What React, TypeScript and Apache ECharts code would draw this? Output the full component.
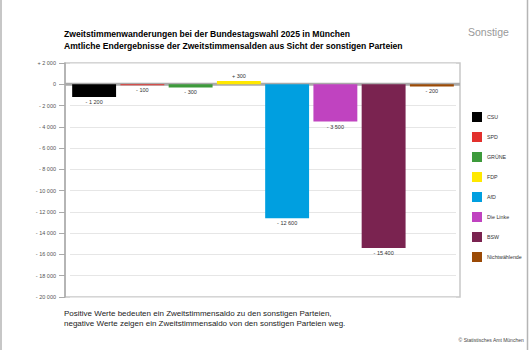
import React, { useEffect, useRef } from "react";
import * as echarts from "echarts";

const parties = ["CSU", "SPD", "GRÜNE", "FDP", "AfD", "Die Linke", "BSW", "Nichtwählende"];
const saldo = [-1200, -100, -300, 300, -12600, -3500, -15400, -200];
const colors = ["#000000", "#e2312d", "#3d9a3b", "#ffe800", "#009fe0", "#c043c0", "#7a2350", "#9b4a06"];
const yTicks = { min: -20000, max: 2000, interval: 2000 };
const titleLines = [
  "Zweitstimmenwanderungen bei der Bundestagswahl 2025 in München",
  "Amtliche Endergebnisse der Zweitstimmensalden aus Sicht der sonstigen Parteien",
];
const noteLines = [
  "Positive Werte bedeuten ein Zweitstimmensaldo zu den sonstigen Parteien,",
  "negative Werte zeigen ein Zweitstimmensaldo von den sonstigen Parteien weg.",
];
const cornerLabel = "Sonstige";
const sourceLabel = "© Statistisches Amt München";

const FONT = "'Liberation Sans', Arial, sans-serif";

function groupDigits(n: number): string {
  return String(Math.round(n)).replace(/\B(?=(\d{3})+(?!\d))/g, " ");
}
function signed(v: number): string {
  if (v > 0) return "+ " + groupDigits(v);
  if (v < 0) return "- " + groupDigits(-v);
  return "0";
}

export default function App() {
  const ref = useRef<HTMLDivElement>(null);
  useEffect(() => {
    if (!ref.current) return;
    const chart = echarts.init(ref.current, null, { renderer: "svg" });
    const series = parties.map((p, i) => ({
      name: p,
      type: "bar",
      stack: "all",
      barCategoryGap: "9%",
      itemStyle: { color: colors[i] },
      label: {
        show: true,
        position: saldo[i] >= 0 ? "top" : "bottom",
        distance: 2,
        fontSize: 5.5,
        fontFamily: FONT,
        color: "#333",
        formatter: (prm: any) => signed(prm.value),
      },
      data: parties.map((_, j) => (j === i ? saldo[i] : "-")),
    }));
    const baseGraphic: any[] = [
      { type: "line", shape: { x1: 1, y1: 0, x2: 1, y2: 350 }, style: { stroke: "#b5b5b5", lineWidth: 1.5 }, silent: true },
      { type: "line", shape: { x1: 527.5, y1: 0, x2: 527.5, y2: 350 }, style: { stroke: "#b5b5b5", lineWidth: 1.5 }, silent: true },
      { type: "rect", shape: { x: 65, y: 63, width: 395, height: 234 }, style: { fill: "none", stroke: "#c8c8c8", lineWidth: 1.5 }, z: 0, silent: true },
      { type: "text", left: 468, top: 26, style: { text: cornerLabel, fontSize: 10.5, fontFamily: FONT, fill: "#999" } },
      { type: "text", left: 64, top: 308, style: { text: noteLines.join("\n"), fontSize: 8, lineHeight: 10.5, fontFamily: FONT, fill: "#222" } },
      { type: "text", right: 6, top: 337, style: { text: sourceLabel, fontSize: 5, fontFamily: FONT, fill: "#444" } },
    ];
    chart.setOption({
      animation: false,
      textStyle: { fontFamily: FONT },
      title: {
        text: titleLines.join("\n"),
        left: 64,
        top: 28,
        padding: 0,
        textStyle: { fontSize: 8.6, fontWeight: "bold", lineHeight: 12, color: "#000", fontFamily: FONT },
      },
      legend: {
        orient: "vertical",
        left: 472,
        top: 112,
        itemWidth: 10,
        itemHeight: 10,
        itemGap: 10,
        icon: "rect",
        padding: 0,
        textStyle: { fontSize: 5.3, color: "#333", fontFamily: FONT, padding: [0, 0, 0, 0] },
        data: parties,
      },
      grid: { left: 70, right: 74, top: 63, bottom: 53, containLabel: false },
      xAxis: {
        type: "category",
        data: parties,
        axisLine: { show: false },
        axisTick: { show: false },
        axisLabel: { show: false },
      },
      yAxis: {
        type: "value",
        min: yTicks.min,
        max: yTicks.max,
        interval: yTicks.interval,
        offset: 5,
        axisLine: { show: true, lineStyle: { color: "#aaa", width: 1.5 } },
        axisTick: { show: true, length: 6, lineStyle: { color: "#aaa" } },
        axisLabel: { fontSize: 5.5, color: "#555", margin: 9, formatter: (v: number) => signed(v), fontFamily: FONT },
        splitLine: { show: true, lineStyle: { color: "#e6e6e6", width: 1 } },
      },
      series,
      graphic: baseGraphic,
    });
    const zeroY = chart.convertToPixel({ yAxisIndex: 0 }, 0) as number;
    chart.setOption({
      graphic: [
        ...baseGraphic,
        { type: "line", shape: { x1: 65, y1: zeroY, x2: 460, y2: zeroY }, style: { stroke: "#aaaaaa", lineWidth: 3 }, z: 1, silent: true },
      ],
    });
    return () => chart.dispose();
  }, []);
  return <div ref={ref} style={{ position: "fixed", left: 0, top: 0, width: 530, height: 350, background: "#fff" }} />;
}
